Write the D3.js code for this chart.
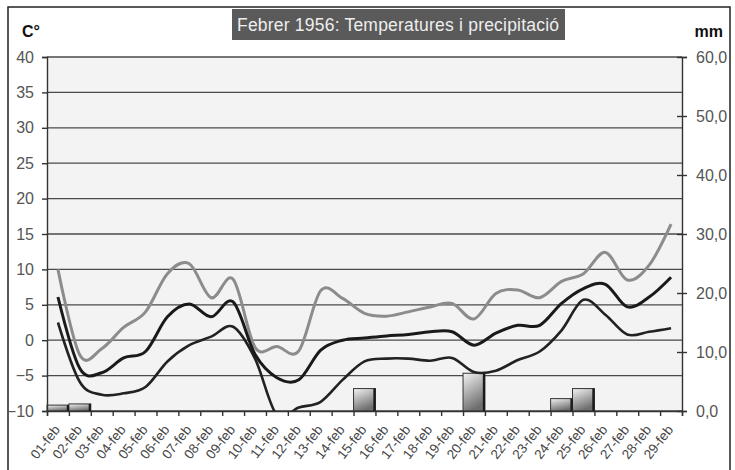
<!DOCTYPE html>
<html>
<head>
<meta charset="utf-8">
<script src="https://cdn.jsdelivr.net/npm/d3@7"></script>
<style>
  body { margin: 0; background: #fff; }
  text { font-family: "Liberation Sans", Arial, sans-serif; }
</style>
</head>
<body>
<svg width="735" height="470"></svg>
<script>
var days = ["01-feb","02-feb","03-feb","04-feb","05-feb","06-feb","07-feb","08-feb","09-feb","10-feb",
  "11-feb","12-feb","13-feb","14-feb","15-feb","16-feb","17-feb","18-feb","19-feb","20-feb",
  "21-feb","22-feb","23-feb","24-feb","25-feb","26-feb","27-feb","28-feb","29-feb"];

// temperatures (C)
var tMax = [10, -2.1, -1.2, 1.8, 4.0, 9.4, 10.8, 6.0, 8.6, -1.0, -0.9, -1.5, 7.0, 5.9, 3.8, 3.4, 4.0, 4.7, 5.2, 3.0,
  6.6, 7.1, 6.0, 8.3, 9.4, 12.4, 8.5, 10.6, 16.4];
var tMean = [6.1, -4.0, -4.6, -2.5, -1.6, 3.3, 5.1, 3.3, 5.4, -2.0, -5.3, -5.6, -1.4, 0, 0.3, 0.6, 0.8, 1.2, 1.2, -0.7,
  1.0, 2.1, 2.1, 5.2, 7.3, 7.9, 4.7, 6.1, 8.9];
var tMin = [2.5, -5.9, -7.7, -7.5, -6.6, -3.0, -0.7, 0.5, 1.9, -2.6, -10.6, -9.5, -8.7, -5.6, -3.0, -2.6, -2.6, -2.9, -2.5, -4.5,
  -4.3, -2.8, -1.6, 1.4, 5.7, 3.6, 0.8, 1.2, 1.7];
// precipitation (mm)
var rain = [1.0, 1.2, 0, 0, 0, 0, 0, 0, 0, 0, 0, 0, 0, 0, 3.8, 0, 0, 0, 0, 6.4,
  0, 0, 0, 2.1, 3.8, 0, 0, 0, 0];

var tempTicks = [-10, -5, 0, 5, 10, 15, 20, 25, 30, 35, 40];
var rainTicks = [0, 10, 20, 30, 40, 50, 60];

var svg = d3.select("svg"),
  margin = { top: 57, right: 53, bottom: 59, left: 47 },
  width = 735 - margin.left - margin.right,
  height = 470 - margin.top - margin.bottom;

// outer frame
svg.append("rect")
  .attr("x", 8).attr("y", 7).attr("width", 722).attr("height", 480)
  .attr("fill", "#fff").attr("stroke", "#222").attr("stroke-width", 1.5);

// title
svg.append("rect")
  .attr("x", 232).attr("y", 9).attr("width", 333).attr("height", 31)
  .attr("fill", "#5a5a5a");
svg.append("text")
  .attr("x", 398).attr("y", 31)
  .attr("text-anchor", "middle")
  .attr("fill", "#eeeeee")
  .attr("font-size", 17.5)
  .attr("textLength", 322)
  .text("Febrer 1956: Temperatures i precipitació");

svg.append("text").attr("x", 22).attr("y", 37)
  .attr("font-size", 16).attr("font-weight", "bold").attr("fill", "#111").text("C°");
svg.append("text").attr("x", 723).attr("y", 37).attr("text-anchor", "end")
  .attr("font-size", 16).attr("font-weight", "bold").attr("fill", "#111").text("mm");

var g = svg.append("g")
  .attr("transform", "translate(" + margin.left + "," + margin.top + ")");

var defs = svg.append("defs");
defs.append("clipPath").attr("id", "plotClip")
  .append("rect").attr("width", width).attr("height", height);
var grad = defs.append("linearGradient").attr("id", "barGrad")
  .attr("x1", 0).attr("y1", 0).attr("x2", 0.4).attr("y2", 1);
grad.append("stop").attr("offset", "0%").attr("stop-color", "#f4f4f4");
grad.append("stop").attr("offset", "100%").attr("stop-color", "#6e6e6e");

var x = d3.scaleBand().domain(days).range([0, width]).padding(0);
var bw = x.bandwidth();
var xt = d3.scaleLinear().domain([0, days.length]).range([0, width]);
var y = d3.scaleLinear().domain([-10, 40]).range([height, 0]);
var y2 = d3.scaleLinear().domain([0, 60]).range([height, 0]);

// plot background
g.append("rect").attr("width", width).attr("height", height).attr("fill", "#f3f3f3");

// gridlines
g.selectAll(".grid")
  .data(tempTicks)
  .enter()
  .append("line")
  .attr("class", "grid")
  .attr("x1", 0).attr("x2", width)
  .attr("y1", function(d) { return y(d); })
  .attr("y2", function(d) { return y(d); })
  .attr("stroke", "#4a4a4a").attr("stroke-width", 1.3);

// precipitation bars
var bars = g.selectAll(".bar")
  .data(rain.map(function(v, i) { return { day: days[i], v: v }; }).filter(function(d) { return d.v > 0; }))
  .enter();
bars.append("rect")
  .attr("class", "bar")
  .attr("x", function(d) { return x(d.day); })
  .attr("y", function(d) { return y2(d.v); })
  .attr("width", bw)
  .attr("height", function(d) { return height - y2(d.v); })
  .attr("fill", "url(#barGrad)")
  .attr("stroke", "#333").attr("stroke-width", 1);
bars.append("line")
  .attr("x1", function(d) { return x(d.day) + bw - 1; })
  .attr("x2", function(d) { return x(d.day) + bw - 1; })
  .attr("y1", function(d) { return y2(d.v); })
  .attr("y2", height)
  .attr("stroke", "#1a1a1a").attr("stroke-width", 2.2);

// temperature lines
var line = d3.line()
  .x(function(d, i) { return x(days[i]) + bw / 2; })
  .y(function(d) { return y(d); })
  .curve(d3.curveCardinal.tension(0));

var lines = g.append("g").attr("clip-path", "url(#plotClip)");
lines.append("path").datum(tMax).attr("d", line)
  .attr("fill", "none").attr("stroke", "#8c8c8c").attr("stroke-width", 3);
lines.append("path").datum(tMin).attr("d", line)
  .attr("fill", "none").attr("stroke", "#222").attr("stroke-width", 2.6);
lines.append("path").datum(tMean).attr("d", line)
  .attr("fill", "none").attr("stroke", "#1a1a1a").attr("stroke-width", 3);

// left axis
var yAxis = g.append("g")
  .call(d3.axisLeft(y).tickValues(tempTicks).tickSize(5).tickPadding(8));
yAxis.selectAll("text").attr("font-size", 16).attr("fill", "#555").attr("font-family", "Liberation Sans, Arial, sans-serif");

// right axis
var yAxis2 = g.append("g")
  .attr("transform", "translate(" + width + ",0)")
  .call(d3.axisRight(y2).tickValues(rainTicks).tickSize(5).tickPadding(9)
    .tickFormat(function(d) { return d.toFixed(1).replace(".", ","); }));
yAxis2.selectAll(".tick line").attr("x1", -5);
yAxis2.selectAll("text").attr("font-size", 16).attr("fill", "#555").attr("font-family", "Liberation Sans, Arial, sans-serif");

// bottom axis (ticks between categories)
g.append("g")
  .attr("transform", "translate(0," + height + ")")
  .call(d3.axisBottom(xt).tickValues(d3.range(0, days.length + 1)).tickSize(5).tickFormat(""));

g.selectAll(".xlab")
  .data(days)
  .enter()
  .append("text")
  .attr("class", "xlab")
  .attr("transform", function(d) {
    return "translate(" + (x(d) + bw / 2 - 1) + "," + (height + 16) + ") rotate(-52)";
  })
  .attr("text-anchor", "end")
  .attr("dy", "0.35em")
  .attr("font-size", 13.5)
  .attr("fill", "#444")
  .text(function(d) { return d; });

g.selectAll(".domain, .tick line").attr("stroke", "#333").attr("stroke-width", 1.4);
</script>
</body>
</html>
